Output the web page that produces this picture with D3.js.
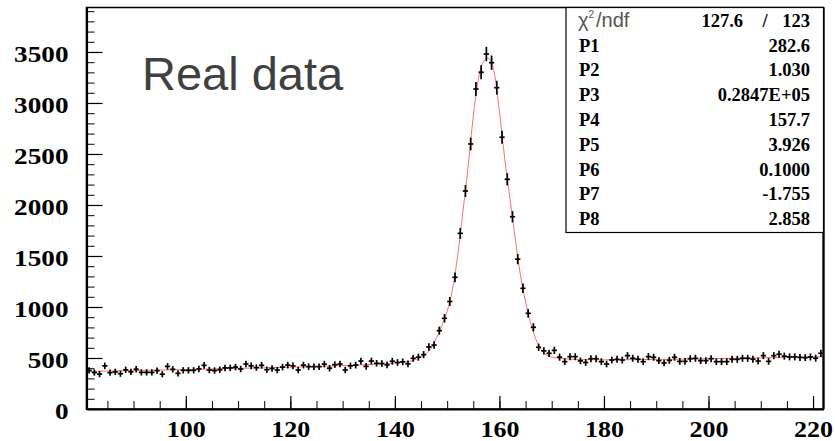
<!DOCTYPE html>
<html lang="en">
<head>
<meta charset="UTF-8" />
<title>Real data</title>
<script src="https://cdn.jsdelivr.net/npm/d3@7"></script>
<style>
  body { margin: 0; background: #fff; }
  svg { display: block; }
</style>
</head>
<body>
<script>
// histogram range, 1 unit bins
var xLow = 81, xHigh = 222;

// bin contents, bin 81-82 first
var counts = [
  378, 358, 342, 423, 356, 364, 346, 384, 364, 390,
  359, 359, 359, 376, 341, 418, 389, 350, 379, 379,
  379, 393, 428, 382, 377, 385, 403, 403, 411, 392,
  441, 423, 406, 428, 385, 397, 382, 411, 430, 423,
  382, 430, 415, 415, 415, 440, 400, 435, 441, 382,
  423, 430, 470, 418, 470, 448, 446, 432, 468, 456,
  462, 443, 497, 508, 533, 608, 627, 768, 889, 1054,
  1291, 1722, 2137, 2598, 3137, 3301, 3480, 3395, 3150, 2664,
  2252, 1885, 1469, 1183, 938, 801, 605, 570, 546, 575,
  508, 464, 513, 513, 472, 456, 493, 493, 464, 441,
  480, 487, 480, 523, 497, 488, 464, 513, 507, 474,
  451, 477, 507, 467, 467, 493, 497, 474, 474, 493,
  464, 464, 464, 487, 487, 497, 497, 488, 470, 523,
  467, 523, 537, 518, 511, 511, 506, 503, 510, 498,
  546
];

// fit curve
var fitX = [81, 90, 100, 110, 120, 130, 136, 140, 142, 143, 144, 145, 146, 147, 148, 149, 150,
            151, 152, 153, 154, 155, 156, 157, 157.8, 158.5, 159, 160, 161, 162, 163, 164,
            165, 166, 167, 168, 169, 170, 172, 175, 180, 190, 200, 210, 222];
var fitY = [368, 377, 386, 398, 410, 425, 438, 450, 460, 470, 485, 508, 545, 600, 700, 820, 960,
            1170, 1500, 1930, 2370, 2870, 3240, 3410, 3440, 3400, 3300, 2920, 2460, 2070, 1680, 1320,
            1050, 840, 680, 580, 530, 508, 495, 485, 482, 486, 493, 501, 512];

var yTicks = [0, 500, 1000, 1500, 2000, 2500, 3000, 3500];
var xTicks = [100, 120, 140, 160, 180, 200, 220];

var statNames = ["P1", "P2", "P3", "P4", "P5", "P6", "P7", "P8"];
var statValues = ["282.6", "1.030", "0.2847E+05", "157.7", "3.926", "0.1000", "-1.755", "2.858"];
var chi2 = "127.6", ndf = "123";

var W = 835, H = 441;
var padL = 86.5, padR = 823.5, padT = 7.5, padB = 409;

var svg = d3.select("body").append("svg").attr("width", W).attr("height", H);

var x = d3.scaleLinear().domain([xLow, xHigh]).range([padL, padR]);
var y = d3.scaleLinear().domain([0, 3936]).range([padB, padT]);

// frame
svg.append("rect")
  .attr("x", padL).attr("y", padT)
  .attr("width", padR - padL).attr("height", padB - padT)
  .attr("fill", "none").attr("stroke", "#000").attr("stroke-width", 1.5);

// fit
var line = d3.line()
  .x(function(d, i) { return x(fitX[i]); })
  .y(function(d) { return y(d); })
  .curve(d3.curveMonotoneX);
svg.append("path")
  .datum(fitY)
  .attr("d", line)
  .attr("fill", "none")
  .attr("stroke", "#ff4a4a")
  .attr("stroke-width", 0.8);

// data points with errors
var pts = svg.append("g").attr("stroke", "#000").attr("stroke-width", 1.7);
counts.forEach(function(c, i) {
  var lo = xLow + i, hi = lo + 1, cx = x(lo + 0.5);
  var err = Math.sqrt(c);
  pts.append("line")
    .attr("x1", x(lo)).attr("x2", x(hi))
    .attr("y1", y(c)).attr("y2", y(c));
  pts.append("line")
    .attr("x1", cx).attr("x2", cx)
    .attr("y1", y(c - err) + 1.2).attr("y2", y(c + err) - 1.2);
});

// y axis, ticks inside
var yAxis = svg.append("g").attr("transform", "translate(" + padL + ",0)")
  .call(d3.axisLeft(y).tickValues(yTicks).tickFormat(d3.format("d"))
    .tickSize(-16).tickSizeOuter(0).tickPadding(18));
svg.append("g").attr("transform", "translate(" + padL + ",0)")
  .call(d3.axisLeft(y).tickValues(d3.range(0, 3936, 100)).tickSize(-8).tickSizeOuter(0).tickFormat(""))
  .select(".domain").remove();
yAxis.select(".domain").attr("stroke-width", 2.2);
yAxis.selectAll(".tick line").attr("stroke-width", 1.2);
yAxis.selectAll("text")
  .attr("dy", 9.8)
  .attr("font-family", "Liberation Serif")
  .attr("font-weight", "bold")
  .attr("font-size", 23)
  .attr("fill", "#000")
  .attr("textLength", function(d) { return String(d).length * 13.6; })
  .attr("lengthAdjust", "spacingAndGlyphs");

// x axis, ticks inside
var xAxis = svg.append("g").attr("transform", "translate(0," + padB + ")")
  .call(d3.axisBottom(x).tickValues(xTicks).tickSize(-13).tickSizeOuter(0).tickPadding(0));
svg.append("g").attr("transform", "translate(0," + padB + ")")
  .call(d3.axisBottom(x).tickValues(d3.range(85, 222, 5)).tickSize(-8).tickSizeOuter(0).tickFormat(""))
  .select(".domain").remove();
xAxis.select(".domain").attr("stroke-width", 2.2);
xAxis.selectAll(".tick line").attr("stroke-width", 1.2);
xAxis.selectAll("text")
  .attr("y", 0).attr("dy", 28)
  .attr("font-family", "Liberation Serif")
  .attr("font-weight", "bold")
  .attr("font-size", 24)
  .attr("fill", "#000")
  .attr("textLength", function(d) { return String(d).length * 13; })
  .attr("lengthAdjust", "spacingAndGlyphs");

svg.selectAll(".tick line").attr("stroke", "#000");
svg.selectAll(".domain").attr("stroke", "#000");

// right border thicker like the axes
svg.append("line")
  .attr("x1", padR).attr("x2", padR).attr("y1", padT).attr("y2", padB)
  .attr("stroke", "#000").attr("stroke-width", 2.2);

// label
svg.append("text")
  .attr("x", 142).attr("y", 90)
  .attr("font-family", "Liberation Sans")
  .attr("font-size", 47)
  .attr("fill", "#404040")
  .text("Real data");

// stats box
var bx = 566, bw = padR - bx, by = padT, bh = 225;
svg.append("rect")
  .attr("x", bx).attr("y", by).attr("width", bw).attr("height", bh)
  .attr("fill", "#fff").attr("stroke", "#000").attr("stroke-width", 1.2);

var rowY = function(i) { return 26.7 + 24.8 * i; };

var chiLabel = svg.append("text")
  .attr("x", 578).attr("y", rowY(0))
  .attr("font-family", "Liberation Sans")
  .attr("font-size", 20)
  .attr("fill", "#555");
chiLabel.append("tspan").text("\u03C7");
chiLabel.append("tspan").attr("dx", 0).attr("dy", -9).attr("font-size", 10).text("2");
chiLabel.append("tspan").attr("dx", 2).attr("dy", 9).text("/ndf");

var boldSerif = function(sel) {
  return sel.attr("font-family", "Liberation Serif").attr("font-weight", "bold")
    .attr("font-size", 18.5).attr("fill", "#000");
};
boldSerif(svg.append("text").attr("x", 743).attr("y", rowY(0)).attr("text-anchor", "end").text(chi2));
boldSerif(svg.append("text").attr("x", 765).attr("y", rowY(0)).attr("text-anchor", "middle").text("/"));
boldSerif(svg.append("text").attr("x", 810).attr("y", rowY(0)).attr("text-anchor", "end").text(ndf));

statNames.forEach(function(n, i) {
  boldSerif(svg.append("text").attr("x", 579).attr("y", rowY(i + 1)).text(n));
  boldSerif(svg.append("text").attr("x", 810).attr("y", rowY(i + 1)).attr("text-anchor", "end").text(statValues[i]));
});
</script>
</body>
</html>
